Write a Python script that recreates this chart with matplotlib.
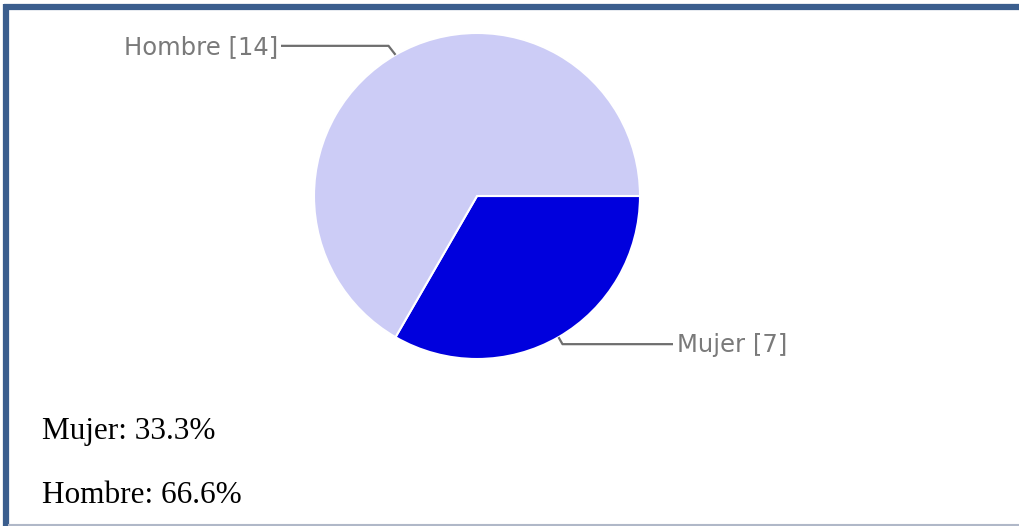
import numpy as np
import matplotlib.pyplot as plt

# data
labels = ['Mujer', 'Hombre']
counts = [7, 14]
percents = ['33.3%', '66.6%']
colors = ['#0000dd', '#ccccf6']

W, H = 1020, 526
fig = plt.figure(figsize=(W / 100, H / 100), dpi=100)
ax = fig.add_axes([0, 0, 1, 1])

cx, cy, r = 477, 196, 163

# y axis is flipped below (pixel coords), so counterclock in data = clockwise on screen
wedges, _ = ax.pie(counts, colors=colors, startangle=0, counterclock=True,
                   center=(cx, cy), radius=r,
                   wedgeprops=dict(edgecolor='white', linewidth=1.5))

ax.set_xlim(0, W)
ax.set_ylim(H, 0)
ax.set_aspect('equal')
ax.axis('off')

# leader lines from the middle of each wedge
total = sum(counts)
start = 0
mids = []
for c in counts:
    ang = 360 * c / total
    mids.append(np.radians(start + ang / 2))
    start += ang

# (elbow dx, elbow dy, line end x, text x, align)
leaders = [(4, 7, 673, 677, 'left'), (-7, -9, 281, 278, 'right')]
for i, m in enumerate(mids):
    ex = cx + r * np.cos(m)
    ey = cy + r * np.sin(m)
    dx, dy, endx, tx, ha = leaders[i]
    ax.plot([ex, ex + dx, endx], [ey, ey + dy, ey + dy], color='#6e6e6e', lw=1.6,
            solid_capstyle='butt')
    ax.text(tx, ey + dy + 1, f'{labels[i]} [{counts[i]}]', ha=ha, va='center',
            fontsize=17.5, color='#7a7a7a', family='DejaVu Sans')

# percentages written under the chart
ax.text(42, 439, f'{labels[0]}: {percents[0]}', fontsize=22.5, family='Liberation Serif',
        color='black', va='baseline')
ax.text(42, 503, f'{labels[1]}: {percents[1]}', fontsize=22.5, family='Liberation Serif',
        color='black', va='baseline')

# frame round the picture
ax.plot([4, W], [6.5, 6.5], color='#3b5e8e', lw=4.5, solid_capstyle='butt')
ax.plot([6.5, 6.5], [4, H], color='#3b5e8e', lw=4.5, solid_capstyle='butt')
ax.plot([9, W], [524.5, 524.5], color='#b0b8c8', lw=1.5)

fig.savefig('out.png', dpi=100)
